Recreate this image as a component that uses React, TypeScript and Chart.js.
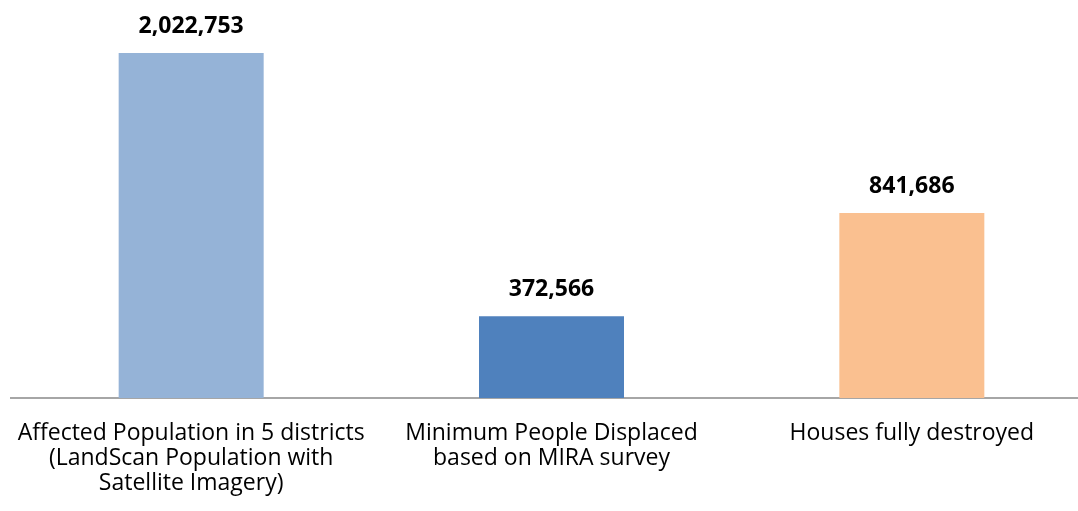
import React, { useEffect, useRef } from "react";
import { Chart, registerables } from "chart.js";

Chart.register(...registerables);

const categories: string[][] = [
  ["Affected Population in 5 districts", "(LandScan Population with", "Satellite Imagery)"],
  ["Minimum People Displaced", "based on MIRA survey"],
  ["Houses fully destroyed"],
];
const values: number[] = [2022753, 372566, 841686];
const valueLabels: string[] = ["2,022,753", "372,566", "841,686"];
const barColors: string[] = ["#95B3D7", "#4F81BD", "#FAC090"];
const axisMax = 1570000;

const FONT = "'Open Sans', Lato, sans-serif";

const valueLabelPlugin = {
  id: "valueLabels",
  afterDatasetsDraw(chart: any) {
    const { ctx, chartArea } = chart;
    const meta = chart.getDatasetMeta(0);
    ctx.save();
    ctx.font = `bold 23px ${FONT}`;
    ctx.fillStyle = "#000";
    ctx.textAlign = "center";
    ctx.textBaseline = "alphabetic";
    meta.data.forEach((bar: any, i: number) => {
      const top = Math.max(bar.y, chartArea.top);
      ctx.fillText(valueLabels[i], bar.x, top - 20);
    });
    ctx.restore();
  },
};

export default function App() {
  const ref = useRef<HTMLCanvasElement | null>(null);
  useEffect(() => {
    if (!ref.current) return;
    const chart = new Chart(ref.current, {
      type: "bar",
      data: {
        labels: categories,
        datasets: [
          {
            data: values,
            backgroundColor: barColors,
            borderWidth: 0,
            barPercentage: 0.8,
            categoryPercentage: 0.503,
            clip: 0,
          } as any,
        ],
      },
      options: {
        responsive: false,
        maintainAspectRatio: false,
        animation: false,
        layout: { padding: { left: 11, right: 8, top: 53, bottom: 0 } },
        plugins: { legend: { display: false }, tooltip: { enabled: false } },
        scales: {
          x: {
            grid: { display: false, drawTicks: false },
            border: { display: true, color: "#A6A6A6", width: 2 },
            ticks: {
              color: "#000",
              font: { family: FONT, size: 23, lineHeight: 1.087 },
              padding: 23,
              maxRotation: 0,
              autoSkip: false,
            },
            afterFit: (scale: any) => {
              scale.height = 113;
              scale.paddingLeft = 0;
              scale.paddingRight = 0;
            },
          },
          y: {
            display: false,
            min: 0,
            max: axisMax,
          },
        },
      },
      plugins: [valueLabelPlugin],
    });
    return () => chart.destroy();
  }, []);
  return (
    <div style={{ position: "absolute", left: 0, top: 0, width: 1078, height: 511, overflow: "hidden", background: "#fff" }}>
      <canvas ref={ref} width={1100} height={511} style={{ width: 1100, height: 511 }} />
    </div>
  );
}
